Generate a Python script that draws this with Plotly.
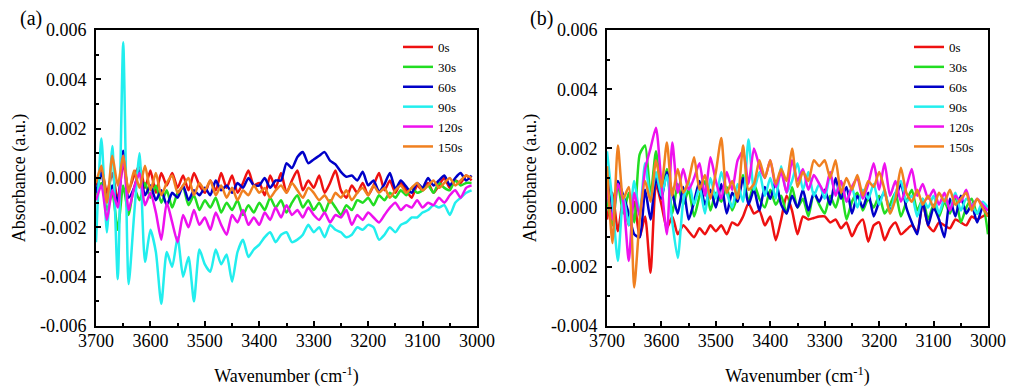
import plotly.graph_objects as go

# ---------------- data (absorbance values in units of 1e-3 a.u.) ----------------
wavenumber_a = list(range(3700, 3000, -10))   # 3700 ... 3010
wavenumber_b = list(range(3700, 2990, -10))   # 3700 ... 3000

series_names = ["0s", "30s", "60s", "90s", "120s", "150s"]
series_colors = ["#EE1111", "#22DD22", "#0000C8", "#22EEEE", "#EE11EE", "#F08020"]

a_0s = [
    -0.3, 0.4, -0.6, 0.2, -0.9, 0.6, -0.5, 0.1, 0.5, -0.4,
    0.3, -0.6, 0.2, -0.3, 0.2, -0.4, 0.1, -0.5, 0.2, -0.3,
    -0.6, -0.1, -0.5, 0.2, -0.4, 0.1, -0.6, -0.2, 0.3, -0.3,
    -0.2, -0.7, 0.1, -0.4, 0.2, -0.6, -0.1, 0.3, -0.5, -0.1,
    -0.4, 0.1, -0.6, -0.2, 0.3, -0.5, -0.8, -0.3, -0.6, -0.2,
    -0.7, -0.3, 0.2, -0.5, -0.1, -0.6, -0.2, -0.5, -0.8, -0.3,
    -0.5, -0.2, -0.6, -0.3, 0.0, -0.4, -0.1, -0.2, 0.1, -0.1,
]
a_30s = [
    -0.7, -0.2, -1.3, -0.6, -2.1, -0.3, -1.5, -0.4, -0.9, -0.2,
    -0.8, -0.3, -1.0, -0.5, -1.2, -0.6, -0.4, -1.1, -0.7, -1.3,
    -0.9, -1.2, -0.8, -1.4, -1.0, -1.3, -0.9, -1.5, -1.1, -1.4,
    -1.0, -1.3, -0.8, -1.2, -0.9, -1.4, -1.0, -0.7, -1.2, -0.9,
    -1.3, -1.0, -1.4, -0.9, -1.2, -1.5, -1.1, -1.3, -0.9, -1.0,
    -0.8, -1.1, -0.7, -0.9, -0.6, -0.8, -0.5, -0.7, -0.4, -0.6,
    -0.5, -0.3, -0.6, -0.2, -0.4, -0.5, -0.1, -0.3, -0.2, -0.2,
]
a_60s = [
    -0.6, 0.2, -0.9, -0.3, -1.0, 1.1, -0.8, -0.4, 0.3, -0.7,
    -0.3, -0.9, -0.5, -1.1, -0.6, -0.8, -0.3, -0.9, -0.5, -0.7,
    -0.4, -0.7, -0.1, -0.5, -0.3, -0.6, -0.2, -0.4, 0.0, -0.3,
    -0.3, 0.0, -0.4, -0.1, -0.1, 0.6, 0.4, 0.85, 1.05, 0.6,
    0.75, 0.9, 1.05, 0.7, 0.55, 0.25, 0.05, 0.1, -0.1, 0.25,
    -0.3, -0.1, -0.55, -0.25, 0.2, -0.45, -0.1, -0.35, -0.6, -0.2,
    -0.4, 0.0, -0.3, -0.1, 0.1, -0.3, 0.0, 0.2, -0.1, 0.1,
]
a_90s = [
    -2.6, 1.6, -2.2, 1.3, -4.1, 5.5, -4.3, -1.5, 1.0, -3.4,
    -2.1, -3.0, -5.1, -3.0, -3.6, -2.4, -4.0, -3.2, -5.0, -2.9,
    -3.5, -3.8, -2.9, -3.5, -3.1, -4.2, -3.0, -2.5, -3.2, -2.9,
    -2.7, -2.4, -2.2, -2.6, -2.3, -2.2, -2.6, -2.5, -2.3, -1.9,
    -2.2, -2.0, -2.4, -1.9, -2.1, -2.2, -2.4, -2.3, -2.0, -2.1,
    -1.9, -2.0, -2.5, -2.3, -2.0, -2.2, -1.9, -1.8, -1.6, -1.6,
    -1.4, -1.3, -1.1, -1.2, -1.1, -1.5, -1.0, -0.8, -0.6, -0.5,
]
a_120s = [
    -0.9, -0.3, -1.7, -0.5, -1.2, 0.9, -1.3, -0.4, 0.2, -1.1,
    -0.6, -1.4, -2.5, -1.0, -1.8, -2.6, -1.5, -2.0, -1.3, -1.9,
    -1.6, -2.1, -1.4, -1.9, -2.3, -1.5, -1.8, -1.3, -1.9, -1.6,
    -1.9, -1.4, -1.7, -1.2, -1.6, -1.1, -1.5, -1.3, -1.6, -1.2,
    -1.5, -1.7, -1.4, -1.8, -1.5, -1.6, -1.3, -1.9, -1.5, -1.7,
    -1.4, -1.6, -1.8, -1.5, -1.2, -1.0, -1.3, -1.1, -1.2, -0.9,
    -1.2, -1.0, -1.1, -0.8, -1.0, -0.7, -0.5, -0.8, -0.4, -0.3,
]
a_150s = [
    -0.2, 0.5, -1.0, 0.9, -0.3, 0.9, -0.6, 0.3, -0.4, 0.5,
    -0.5, 0.2, -0.7, -0.2, 0.1, -0.6, -0.3, 0.0, -0.7, -0.2,
    -0.5, -0.1, -0.7, -0.3, -0.8, -0.4, -0.9, -0.5, -0.7, -0.3,
    -0.6, -0.4, -0.8, -0.5, -0.3, -0.6, -0.2, -0.5, -0.8, -0.4,
    -0.6, -0.9, -0.7, -1.0, -0.6, -0.8, -0.5, -0.9, -0.6, -0.4,
    -0.7, -0.3, -0.6, -0.4, -0.8, -0.5, -0.3, -0.6, -0.4, -0.2,
    -0.5, -0.3, -0.1, -0.4, -0.2, 0.0, -0.3, -0.1, 0.1, 0.0,
]

b_0s = [
    -0.4, 0.5, -0.8, 0.3, -0.6, 0.2, -1.0, -0.3, -2.2, 0.8,
    0.1, -0.7, -0.3, -0.9, -0.6, -0.8, -1.0, -0.7, -0.9, -0.6,
    -0.8, -0.6, -0.9, -0.5, -0.6, -0.3, 0.15, -0.2, -0.1, -0.6,
    -0.3, -1.1, -0.4, 0.4, -0.1, -0.9, -0.3, -0.4, -0.35, -0.3,
    -0.3, -0.5, -0.4, -0.7, -0.5, -0.97, -0.6, -0.4, -1.15, -0.6,
    -0.5, -1.1, -0.7, -0.5, -0.9, -0.75, -0.6, -0.8, 0.15, -0.6,
    -0.8, -0.5, -0.6, -0.7, -0.4, -0.5, -0.6, -0.3, -0.4, -0.3,
    -0.2,
]
b_30s = [
    0.3, -0.6, 0.8, -0.2, 0.5, -0.5, 1.8, 2.1, 0.4, 1.9,
    0.5, 1.3, -0.2, 0.8, 0.1, 0.6, -0.3, 0.4, 0.9, -0.1,
    0.5, 0.2, 0.7, -0.1, 0.4, 1.1, 0.2, 0.8, 0.3, 0.0,
    0.6, 0.1, 0.4, -0.2, 0.7, 0.0, 0.3, -0.3, 0.5, 0.1,
    -0.2, 0.4, 0.0, 0.6, -0.4, 0.2, 0.5, -0.1, 0.3, 0.0,
    0.4, -0.2, 0.1, 0.5, -0.3, 0.2, 0.6, -0.1, 0.3, -0.4,
    0.1, -0.3, 0.2, -0.2, 0.4, -0.5, 0.0, 0.3, -0.2, 0.1,
    -0.9,
]
b_60s = [
    1.2, -0.3, 0.9, 0.4, -0.2, -0.9, -1.0, 0.6, -0.4, 1.0,
    0.3, 1.2, 0.5, -0.2, 0.7, -0.4, 0.2, 0.9, 0.1, 0.6,
    0.0, 0.8, -0.2, 0.5, 0.2, 1.0, 0.1, 0.6, -0.1, 0.7,
    0.3, 0.9, 0.1, -0.2, 0.4, 0.0, 0.6, -0.1, 0.5, 0.2,
    0.6, 0.1, 1.0, 0.3, 0.7, -0.2, 0.4, 0.0, 0.5, -0.3,
    0.2, 0.5, -0.1, 0.3, 0.8, 0.0, -0.5, -0.9, 0.2, -0.6,
    0.0, -0.4, -1.0, 0.3, -0.3, 0.4, -0.2, 0.1, -0.5, 0.0,
    -0.3,
]
b_90s = [
    1.9, 0.2, -1.8, 0.4, -0.6, 0.9, -0.2, 1.5, 0.3, 1.2,
    0.4, 1.1, -0.5, -1.7, 0.2, 0.9, 0.1, 0.7, -0.2, 1.0,
    0.3, 1.2, 0.5, 0.0, 0.8, 0.2, 2.3, 0.6, 1.2, 0.4,
    1.0, 0.3, 1.4, 0.5, 0.9, 1.5, 0.6, 1.2, 0.4, 0.8,
    0.3, 1.1, 0.5, 0.9, 0.2, 0.7, 0.0, 0.6, 0.3, 0.8,
    0.1, 0.6, -0.2, 0.5, 0.9, 0.2, 0.4, -0.3, 0.3, 0.0,
    0.4, -0.2, 0.3, 0.0, 0.5, -0.1, 0.3, 0.1, -0.2, 0.2,
    0.0,
]
b_120s = [
    0.6, -0.4, 0.8, 0.2, -1.8, 0.5, -0.3, 1.3, 2.0, 2.7,
    0.8, -0.9, 2.2, 0.5, 1.3, 0.6, 1.0, 1.5, 0.4, 1.7,
    0.9, 0.3, 1.2, 0.6, 1.6, 1.9, 0.8, 2.0, 1.4, 1.0,
    1.6, 0.7, 1.2, 0.5, 1.6, 0.9, 1.3, 0.6, 1.1, 0.8,
    0.5, 1.2, 0.4, 0.9, 0.2, 0.7, 1.0, 0.3, 0.8, 1.5,
    0.6, 1.5, 0.4, 0.9, 0.2, 0.7, 1.3, 0.4, 0.8, 0.3,
    0.6, 0.1, 0.5, -0.1, 0.4, 0.2, 0.6, 0.0, 0.3, 0.1,
    -0.1,
]
b_150s = [
    1.4, -1.2, 2.1, 0.3, 0.7, -2.7, -0.4, 0.9, 0.2, 1.6,
    0.7, 2.2, 0.4, 1.3, 0.5, 0.9, 1.7, 0.6, 1.1, 0.3,
    1.2, 2.35, 0.5, 0.9, 0.3, 2.1, 0.6, 0.8, 1.6, 1.0,
    1.6, 0.8, 1.3, 0.9, 2.0, 0.7, 1.2, 0.9, 1.6, 1.4,
    1.6, 1.0, 1.6, 0.5, 1.0, 0.6, 1.1, 0.4, 0.9, 0.7,
    1.2, 0.6, -0.2, 0.3, 1.35, 0.5, 0.2, 0.6, 0.1, 0.4,
    0.0, 0.5, 0.2, 0.6, 0.1, 0.3, 0.5, -0.1, 0.3, 0.0,
    -0.3,
]

x_ticks = [3700, 3600, 3500, 3400, 3300, 3200, 3100, 3000]
x_ticktext = ["3700", "3600", "3500", "3400", "3300", "3200", "3100", "3000"]
ya_ticks = [-0.006, -0.004, -0.002, 0.0, 0.002, 0.004, 0.006]
ya_ticktext = ["-0.006", "-0.004", "-0.002", "0.000", "0.002", "0.004", "0.006"]
yb_ticks = [-0.004, -0.002, 0.0, 0.002, 0.004, 0.006]
yb_ticktext = ["-0.004", "-0.002", "0.000", "0.002", "0.004", "0.006"]

UNIT = 1e-3
panel_a = [a_0s, a_30s, a_60s, a_90s, a_120s, a_150s]
panel_b = [b_0s, b_30s, b_60s, b_90s, b_120s, b_150s]

# ---------------- figure ----------------
W, H = 1018, 390
FONT = "Liberation Serif"

fig = go.Figure()

for name, color, vals in zip(series_names, series_colors, panel_a):
    fig.add_trace(go.Scatter(
        x=wavenumber_a, y=[v * UNIT for v in vals], mode="lines", name=name,
        line=dict(color=color, width=2.5, shape="spline", smoothing=0.6),
        xaxis="x", yaxis="y", legend="legend",
    ))
for name, color, vals in zip(series_names, series_colors, panel_b):
    fig.add_trace(go.Scatter(
        x=wavenumber_b, y=[v * UNIT for v in vals], mode="lines", name=name,
        line=dict(color=color, width=2.5, shape="spline", smoothing=0.6),
        xaxis="x2", yaxis="y2", legend="legend2",
    ))

def px_x(p):
    return p / W

def px_y(p):
    return 1 - p / H

axis_common = dict(
    showline=True, linecolor="black", linewidth=2, mirror=True,
    ticks="inside", ticklen=5, tickwidth=2, tickcolor="black",
    showgrid=False, zeroline=False, automargin=False,
    tickfont=dict(family=FONT, size=18, color="black"),
    title_font=dict(family=FONT, size=18, color="black"),
    minor=dict(ticks="inside", ticklen=3, tickwidth=2, tickcolor="black", showgrid=False),
)

xa = dict(axis_common, range=[3700, 3000], tickvals=x_ticks, ticktext=x_ticktext,
          ticklabelstandoff=-3,
          title=dict(text="Wavenumber (cm<sup>-1</sup>)", standoff=20))
xa["minor"] = dict(axis_common["minor"], dtick=50, tick0=3000)

ya = dict(axis_common, range=[-0.006, 0.006], tickvals=ya_ticks, ticktext=ya_ticktext,
          ticklabelstandoff=4,
          title=dict(text="Absorbance (a.u.)", standoff=10))
ya["minor"] = dict(axis_common["minor"], dtick=0.001, tick0=0)

yb = dict(axis_common, range=[-0.004, 0.006], tickvals=yb_ticks, ticktext=yb_ticktext,
          ticklabelstandoff=4,
          title=dict(text="Absorbance (a.u.)", standoff=10))
yb["minor"] = dict(axis_common["minor"], dtick=0.001, tick0=0)

legend_common = dict(
    font=dict(family=FONT, size=13, color="black"),
    bgcolor="rgba(0,0,0,0)", borderwidth=0,
    xanchor="left", yanchor="top", tracegroupgap=0, itemwidth=30,
)

fig.update_layout(
    width=W, height=H,
    margin=dict(l=0, r=0, t=0, b=0, autoexpand=False),
    paper_bgcolor="white", plot_bgcolor="white",
    font=dict(family=FONT, size=18, color="black"),
    xaxis=dict(xa, domain=[px_x(96), px_x(477)], anchor="y"),
    yaxis=dict(ya, domain=[px_y(326), px_y(30)], anchor="x"),
    xaxis2=dict(xa, domain=[px_x(607), px_x(988)], anchor="y2"),
    yaxis2=dict(yb, domain=[px_y(326), px_y(30)], anchor="x2"),
    legend=dict(legend_common, x=px_x(398), y=px_y(32)),
    legend2=dict(legend_common, x=px_x(909), y=px_y(32)),
    annotations=[
        dict(text="(a)", x=px_x(31), y=px_y(18), xref="paper", yref="paper",
             xanchor="center", yanchor="middle",
             showarrow=False, font=dict(family=FONT, size=20, color="black")),
        dict(text="(b)", x=px_x(541), y=px_y(18), xref="paper", yref="paper",
             xanchor="center", yanchor="middle",
             showarrow=False, font=dict(family=FONT, size=20, color="black")),
    ],
    showlegend=True,
)

fig.write_html(
    "out.html",
    config={"displayModeBar": False},
    post_script="document.body.style.margin='0';document.body.style.overflow='hidden';",
)
